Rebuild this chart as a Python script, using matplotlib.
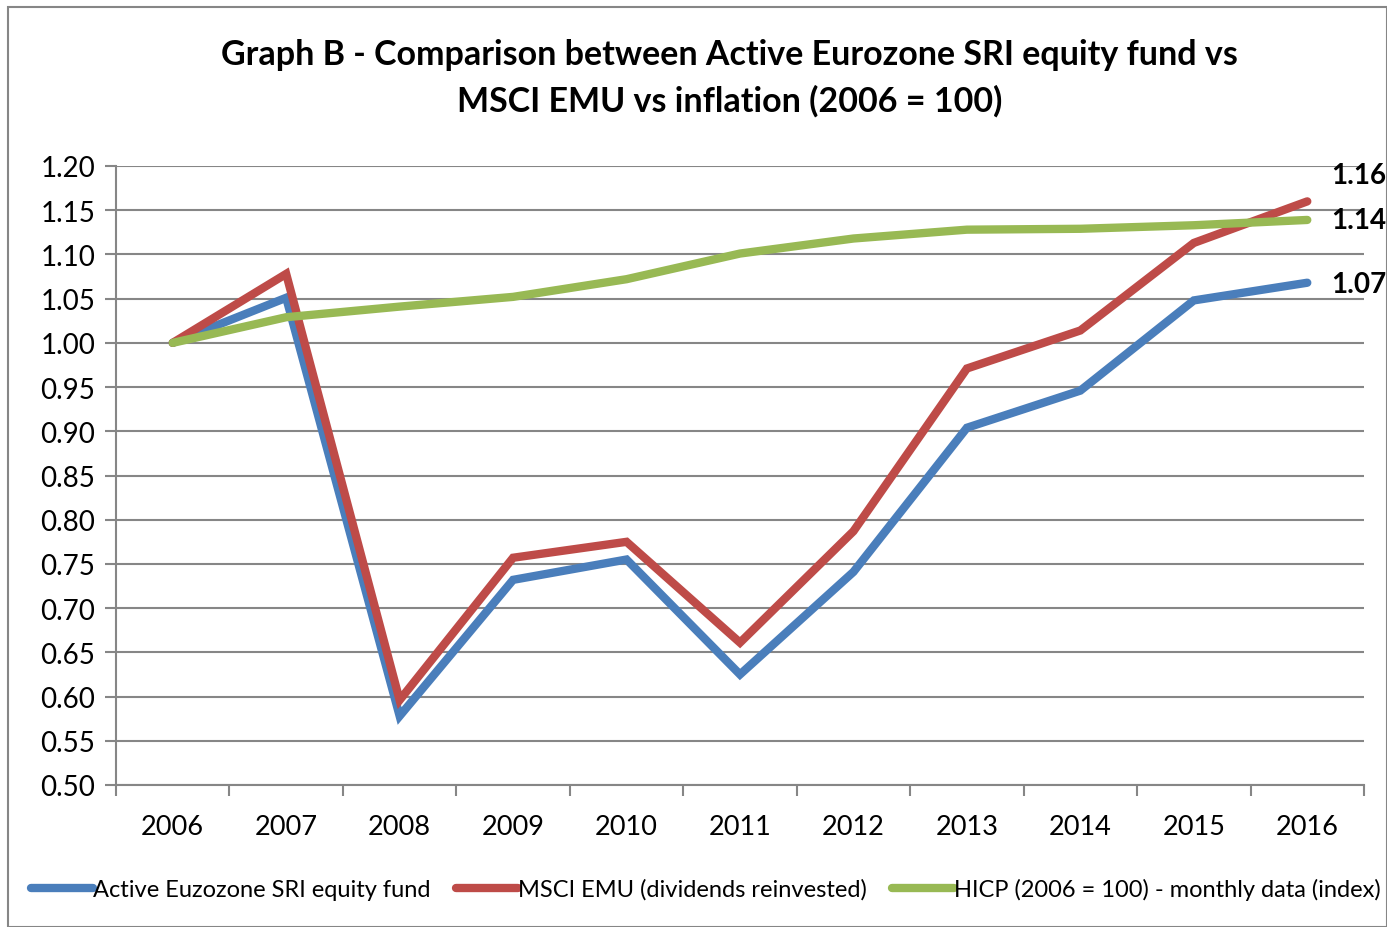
import matplotlib
matplotlib.use("Agg")
import matplotlib.pyplot as plt
from matplotlib.patches import Rectangle

years = ["2006", "2007", "2008", "2009", "2010", "2011", "2012", "2013", "2014", "2015", "2016"]
fund = [1.00, 1.051, 0.578, 0.732, 0.755, 0.625, 0.741, 0.904, 0.946, 1.048, 1.068]
msci = [1.00, 1.078, 0.596, 0.757, 0.775, 0.661, 0.787, 0.971, 1.014, 1.113, 1.160]
hicp = [1.00, 1.029, 1.041, 1.052, 1.072, 1.101, 1.118, 1.128, 1.129, 1.133, 1.139]
end_labels = ["1.07", "1.16", "1.14"]
names = ["Active Euzozone SRI equity fund", "MSCI EMU (dividends reinvested)",
         "HICP (2006 = 100) - monthly data (index)"]
colors = ["#4a7ebb", "#be4b48", "#98b954"]
yticks = [0.50, 0.55, 0.60, 0.65, 0.70, 0.75, 0.80, 0.85, 0.90, 0.95, 1.00, 1.05, 1.10, 1.15, 1.20]

plt.rcParams['font.family'] = ['Lato', 'DejaVu Sans']

fig = plt.figure(figsize=(13.87, 9.28), dpi=100)
ax = fig.add_axes([116/1387, 1 - 786/928, (1364-116)/1387, (786-167)/928])

x = list(range(len(years)))
series = [fund, msci, hicp]
lines = []
for s, c, n in zip(series, colors, names):
    ln, = ax.plot(x, s, color=c, lw=6, solid_capstyle='round', solid_joinstyle='miter', label=n, zorder=3)
    lines.append(ln)

# end labels (vertical offsets in points keep them apart like the reference)
for s, lab, dy in zip(series, end_labels, [-1, 19, 0]):
    ax.annotate(lab, (x[-1], s[-1]), xytext=(17, dy), textcoords='offset points',
                ha='left', va='center', fontsize=20, fontweight='bold', annotation_clip=False)

ax.set_xlim(-0.5, len(years) - 0.5)
ax.set_ylim(0.50, 1.20)
ax.set_yticks(yticks)
ax.set_yticklabels([f"{v:.2f}" for v in yticks], fontsize=20)
ax.set_xticks(x)
ax.set_xticklabels(years, fontsize=19.5)
ax.tick_params(axis='x', length=0, pad=21)
ax.set_xticks([i - 0.5 for i in range(len(years) + 1)], minor=True)
ax.tick_params(axis='x', which='minor', length=8, color='#868686', width=1.5)
ax.tick_params(axis='y', length=8, color='#868686', width=1.5, pad=7)
ax.grid(axis='y', color='#868686', lw=1.5, zorder=1)
for sp in ['top', 'right']:
    ax.spines[sp].set_visible(False)
for sp in ['left', 'bottom']:
    ax.spines[sp].set_color('#868686')
    ax.spines[sp].set_linewidth(1.5)

fig.text(0.526, 1 - 55/928, "Graph B - Comparison between Active Eurozone SRI equity fund vs",
         ha='center', va='center', fontsize=24.5, fontweight='bold')
fig.text(0.526, 1 - 101/928, "MSCI EMU vs inflation (2006 = 100)",
         ha='center', va='center', fontsize=24.5, fontweight='bold')

leg = fig.legend(handles=lines, loc='center', bbox_to_anchor=(0.509, 1 - 890/928), ncol=3,
                 frameon=False, fontsize=17, handlelength=2.6, handletextpad=0.0,
                 columnspacing=1.1)

fig.patches.append(Rectangle((8/1387, 0), 1 - 8/1387, 1 - 8/928, transform=fig.transFigure,
                             fill=False, edgecolor='#868686', lw=1.5))

fig.savefig("out.png", dpi=100)
